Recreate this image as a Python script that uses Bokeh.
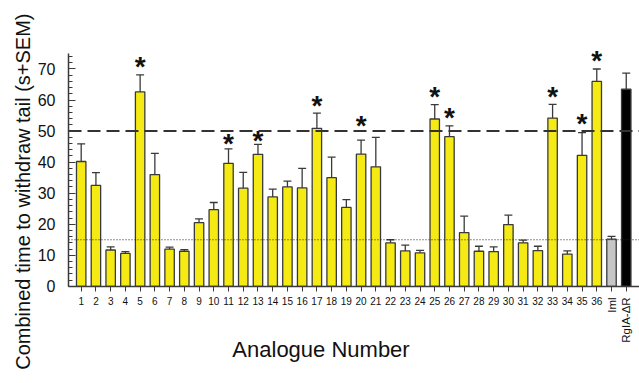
import math
from bokeh.plotting import figure
from bokeh.models import Range1d, Label, FixedTicker, SingleIntervalTicker, ColumnDataSource
from bokeh.core.properties import value
from bokeh.embed import file_html
from bokeh.resources import INLINE

# ---------------- data ----------------
categories = ["1", "2", "3", "4", "5", "6", "7", "8", "9", "10",
              "11", "12", "13", "14", "15", "16", "17", "18", "19", "20",
              "21", "22", "23", "24", "25", "26", "27", "28", "29", "30",
              "31", "32", "33", "34", "35", "36", "Iml", "RgIA-ΔR"]
means = [40.2, 32.5, 11.7, 10.6, 62.6, 36.0, 12.0, 11.3, 20.5, 24.7,
         39.6, 31.6, 42.5, 28.8, 32.0, 31.7, 50.9, 35.0, 25.4, 42.6,
         38.5, 14.0, 11.4, 10.8, 53.9, 48.2, 17.3, 11.3, 11.2, 19.9,
         14.0, 11.5, 54.2, 10.4, 42.2, 66.0, 15.2, 63.5]
sem = [5.7, 4.1, 1.0, 0.6, 5.5, 6.8, 0.6, 0.5, 1.2, 2.3,
       4.7, 5.1, 3.2, 2.5, 1.9, 6.3, 4.9, 6.6, 2.5, 4.5,
       9.5, 1.0, 1.9, 0.8, 4.6, 3.5, 5.3, 1.6, 1.5, 3.0,
       0.9, 1.4, 4.4, 1.0, 7.3, 4.0, 0.9, 5.2]
star_categories = ["5", "11", "13", "17", "20", "25", "26", "33", "35", "36"]
star_heights = [71.6, 46.7, 47.7, 59.0, 52.6, 61.9, 55.0, 61.9, 53.0, 73.5]
dashed_level = 50
dotted_level = 15
y_axis_max = 75
x_title = "Analogue Number"
y_title = "Combined time to withdraw tail (s+SEM)"
vertical_labels = ["Iml", "RgIA-ΔR"]

# ---------------- styling / layout ----------------
FONT = "Liberation Sans"
YELLOW = "#f5ea14"
GREY = "#c6c6c6"
BLACK = "#000000"
EDGE = "#3a3a3a"
TXT = "#111111"

X_AXIS_START = 0.138   # where the y axis sits
X_END = 38.9
X_START = -4.478
Y_START = -31.3
Y_END = 92.06

xs = [i + 1 for i in range(len(categories))]
colors = []
for c in categories:
    if c == "Iml":
        colors.append(GREY)
    elif c == "RgIA-ΔR":
        colors.append(BLACK)
    else:
        colors.append(YELLOW)
tops = [m + s for m, s in zip(means, sem)]

src = ColumnDataSource(dict(x=xs, mean=means, top=tops, color=colors,
                            cap0=[x - 0.27 for x in xs], cap1=[x + 0.27 for x in xs]))

p = figure(width=639, height=383, x_range=Range1d(X_START, X_END), y_range=Range1d(Y_START, Y_END),
           output_backend="svg", toolbar_location=None,
           min_border_left=0, min_border_right=0, min_border_top=0, min_border_bottom=0)
p.outline_line_color = None
p.xgrid.visible = False
p.ygrid.visible = False
p.background_fill_color = "white"
p.border_fill_color = "white"

p.vbar(x="x", top="mean", width=0.64, bottom=0, source=src, fill_color="color",
       line_color=EDGE, line_width=1.3)
p.segment(x0="x", y0="mean", x1="x", y1="top", source=src, line_color=EDGE, line_width=1.3)
p.segment(x0="cap0", y0="top", x1="cap1", y1="top", source=src, line_color=EDGE, line_width=1.3)

star_x = [categories.index(c) + 1 for c in star_categories]
p.text(x=star_x, y=star_heights, text=["*"] * len(star_x), text_font=value(FONT),
       text_font_style="bold", text_font_size="28px", text_align="center",
       text_baseline="alphabetic", y_offset=2, text_color=TXT)

# reference lines
p.segment(x0=[X_AXIS_START], y0=[dashed_level], x1=[X_END], y1=[dashed_level],
          line_color="#333333", line_width=2, line_dash="13 6")
p.segment(x0=[X_AXIS_START], y0=[dotted_level], x1=[X_END], y1=[dotted_level],
          line_color="#222222", line_width=1.2, line_dash="1 2")

# y axis
ya = p.yaxis[0]
ya.fixed_location = X_AXIS_START
ya.bounds = (0, y_axis_max)
ya.ticker = SingleIntervalTicker(interval=10, num_minor_ticks=5)
ya.major_tick_in = 7
ya.major_tick_out = 0
ya.minor_tick_in = 4
ya.minor_tick_out = 0
ya.major_label_standoff = 13
ya.major_label_text_font = FONT
ya.major_label_text_font_size = "16px"
ya.major_label_text_color = TXT
ya.axis_line_color = EDGE
ya.axis_line_width = 1.5
ya.major_tick_line_color = EDGE
ya.minor_tick_line_color = EDGE

# x axis
xa = p.xaxis[0]
xa.fixed_location = 0
xa.bounds = (X_AXIS_START, X_END)
xa.ticker = FixedTicker(ticks=xs)
xa.major_tick_in = 0
xa.major_tick_out = 5
xa.minor_tick_line_color = None
overrides = {}
for x, c in zip(xs, categories):
    overrides[x] = "" if c in vertical_labels else c
xa.major_label_overrides = overrides
xa.major_label_standoff = 6
xa.major_label_text_font = FONT
xa.major_label_text_font_size = "10px"
xa.major_label_text_color = TXT
xa.axis_line_color = EDGE
xa.axis_line_width = 1.5
xa.major_tick_line_color = EDGE

for c in vertical_labels:
    p.add_layout(Label(x=categories.index(c) + 1, y=0, y_offset=-11, text=c,
                       angle=math.pi / 2, text_align="right", text_baseline="middle",
                       text_font=FONT, text_font_size="11.5px", text_color=TXT))

p.add_layout(Label(x=17.28, y=-20.4, text=x_title, text_align="center",
                   text_baseline="alphabetic", text_font=FONT, text_font_size="22px",
                   text_color=TXT))
p.add_layout(Label(x=-2.92, y=30.5, text=y_title, angle=math.pi / 2, text_align="center",
                   text_baseline="middle", text_font=FONT, text_font_size="20px",
                   text_color=TXT))

open("out.html", "w").write(file_html(p, INLINE))
